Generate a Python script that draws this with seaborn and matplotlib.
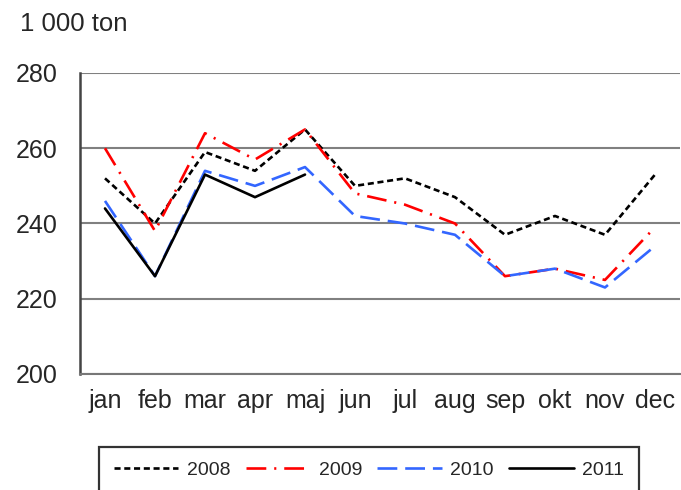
import numpy as np
import pandas as pd
import seaborn as sns
from matplotlib import pyplot as plt
from matplotlib.ticker import FixedLocator

# monthly values, 1 000 ton
months = ['jan', 'feb', 'mar', 'apr', 'maj', 'jun', 'jul', 'aug', 'sep', 'okt', 'nov', 'dec']
y2008 = [252, 240, 259, 254, 265, 250, 252, 247, 237, 242, 237, 253]
y2009 = [260, 238, 264, 257, 265, 248, 245, 240, 226, 228, 225, 239]
y2010 = [246, 226, 254, 250, 255, 242, 240, 237, 226, 228, 223, 234]
y2011 = [244, 226, 253, 247, 253, np.nan, np.nan, np.nan, np.nan, np.nan, np.nan, np.nan]

years = ['2008', '2009', '2010', '2011']
colors = ['black', '#ff0000', '#3366ff', 'black']
dashes = [(2.3, 1.4), (7.5, 3.0, 0.8, 3.0), (7.5, 3.0), ()]


def build_frame():
    rows = []
    for year, vals in zip(years, [y2008, y2009, y2010, y2011]):
        for i, v in enumerate(vals):
            rows.append({'month': i, 'value': v, 'year': year})
    return pd.DataFrame(rows)


def main():
    df = build_frame()

    sns.set_style("white")
    plt.rcParams['font.family'] = ['Liberation Sans', 'DejaVu Sans']

    fig = plt.figure(figsize=(6.81, 4.90), dpi=100)
    ax = fig.add_axes([80 / 681, 1 - 374 / 490, 600 / 681, 301 / 490])

    for year, c, d in zip(years, colors, dashes):
        sub = df.loc[df['year'] == year]
        sns.lineplot(data=sub, x='month', y='value', ax=ax, color=c, linewidth=1.9, label=year)
        ln = ax.lines[-1]
        if d:
            ln.set_dashes(d)

    ax.set_xlim(-0.5, 11.5)
    ax.set_ylim(200, 280)
    ax.set_yticks([200, 220, 240, 260, 280])
    ax.set_xticks(range(12))
    ax.set_xticklabels(months)
    ax.xaxis.set_minor_locator(FixedLocator(np.arange(-0.5, 12, 1)))
    ax.tick_params(axis='x', which='major', length=0, labelsize=18, pad=11)
    ax.tick_params(axis='x', which='minor', length=6, width=1.2, color='#555555', direction='out')
    ax.tick_params(axis='y', length=6, width=1.5, color='#666666', direction='out', labelsize=18, pad=10)
    ax.set_xlabel('')
    ax.set_ylabel('')

    ax.grid(axis='y', color='#808080', linewidth=1.5)
    ax.set_axisbelow(True)
    for pos in ['top', 'right']:
        ax.spines[pos].set_visible(False)
    ax.spines['left'].set_color('#444444')
    ax.spines['left'].set_linewidth(1.8)
    ax.spines['bottom'].set_color('#777777')
    ax.spines['bottom'].set_linewidth(1.5)

    fig.text(20 / 681, 1 - 24 / 490, '1 000 ton', fontsize=18.5, va='center', ha='left')

    handles, labels = ax.get_legend_handles_labels()
    ax.get_legend().remove()
    leg = fig.legend(handles, labels, loc='upper center', bbox_to_anchor=(369 / 681, 1 - 447 / 490),
                     ncol=4, frameon=True, fancybox=False, fontsize=14, handlelength=3.3,
                     columnspacing=0.8, handletextpad=0.45, borderpad=0.75, borderaxespad=0,
                     edgecolor='black')
    leg.get_frame().set_linewidth(1.6)
    for h in leg.get_lines():
        h.set_linewidth(1.9)

    fig.savefig('out.png', dpi=100)


if __name__ == '__main__':
    main()
